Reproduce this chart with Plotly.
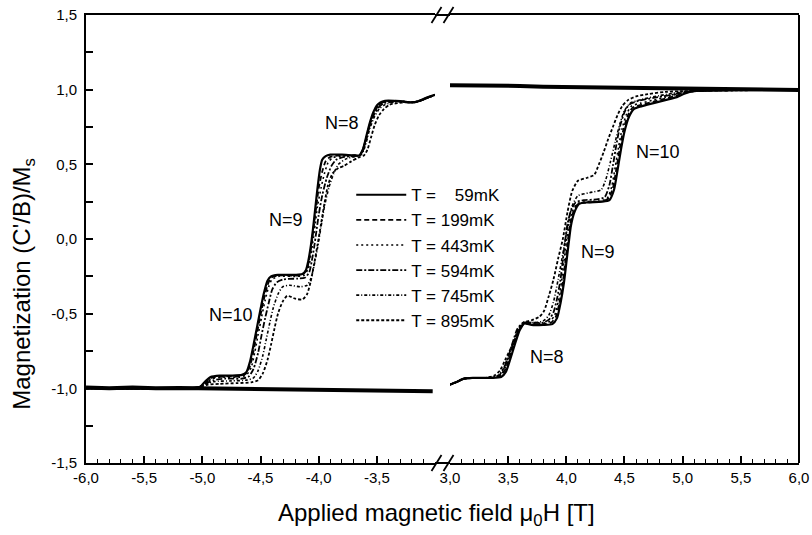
import plotly.graph_objects as go

FONT = "Liberation Sans, Arial, sans-serif"

TEMPS = ["59mK", "199mK", "443mK", "594mK", "745mK", "895mK"]
LEGEND_TEXT = ["T = \u00a0\u00a0 59mK", "T = 199mK", "T = 443mK", "T = 594mK", "T = 745mK", "T = 895mK"]
DASHES = ["solid", "5px,3px", "2px,3px", "6px,2px,2px,2px", "3px,2px,1px,2px", "3px,2px"]
WIDTHS = [2.2, 1.8, 1.6, 1.8, 1.6, 1.8]

# descending branch, negative fields (x, M)
T59_L = [(-6.0,-1.0),(-5.1,-1.0),(-5.02,-0.99),(-4.97,-0.95),(-4.93,-0.925),(-4.85,-0.915),(-4.75,-0.915),(-4.66,-0.91),
         (-4.62,-0.89),(-4.59,-0.82),(-4.56,-0.71),(-4.53,-0.59),(-4.50,-0.47),(-4.47,-0.36),(-4.44,-0.28),(-4.41,-0.25),
         (-4.35,-0.24),(-4.20,-0.24),(-4.14,-0.235),(-4.11,-0.21),(-4.09,-0.15),(-4.07,-0.06),(-4.05,0.06),(-4.03,0.20),
         (-4.01,0.34),(-3.99,0.46),(-3.97,0.53),(-3.94,0.555),(-3.90,0.565),(-3.80,0.565),(-3.70,0.56),(-3.65,0.56),
         (-3.62,0.60),(-3.59,0.69),(-3.56,0.78),(-3.53,0.85),(-3.50,0.895),(-3.47,0.915),(-3.43,0.925),(-3.35,0.925),
         (-3.25,0.918),(-3.18,0.915),(-3.12,0.93),(-3.06,0.95),(-3.0,0.965)]
T199_L = [(-6.0,-1.0),(-5.1,-1.0),(-5.02,-0.99),(-4.96,-0.955),(-4.92,-0.93),(-4.8,-0.92),(-4.68,-0.92),(-4.63,-0.905),
          (-4.59,-0.85),(-4.56,-0.75),(-4.53,-0.63),(-4.50,-0.51),(-4.47,-0.40),(-4.44,-0.31),(-4.41,-0.26),(-4.35,-0.245),
          (-4.20,-0.245),(-4.14,-0.24),(-4.10,-0.20),(-4.08,-0.13),(-4.06,-0.03),(-4.04,0.10),(-4.02,0.22),(-4.0,0.34),
          (-3.97,0.45),(-3.94,0.52),(-3.90,0.55),(-3.82,0.56),(-3.70,0.56),(-3.65,0.56),(-3.62,0.60),(-3.59,0.68),
          (-3.56,0.77),(-3.53,0.84),(-3.49,0.89),(-3.45,0.915),(-3.38,0.925),(-3.3,0.925),(-3.22,0.915),(-3.15,0.92),
          (-3.08,0.94),(-3.0,0.965)]
T443_L = [(-6.0,-1.0),(-5.1,-1.0),(-5.02,-0.99),(-4.96,-0.96),(-4.92,-0.935),(-4.8,-0.925),(-4.68,-0.925),(-4.62,-0.91),
          (-4.58,-0.86),(-4.55,-0.76),(-4.52,-0.64),(-4.49,-0.52),(-4.46,-0.41),(-4.43,-0.32),(-4.40,-0.27),(-4.34,-0.25),
          (-4.20,-0.25),(-4.13,-0.245),(-4.09,-0.20),(-4.07,-0.12),(-4.05,-0.02),(-4.03,0.10),(-4.01,0.22),(-3.98,0.34),
          (-3.95,0.44),(-3.92,0.51),(-3.88,0.545),(-3.80,0.555),(-3.70,0.56),(-3.65,0.56),(-3.62,0.60),(-3.59,0.68),
          (-3.56,0.77),(-3.53,0.84),(-3.49,0.89),(-3.45,0.915),(-3.38,0.925),(-3.3,0.925),(-3.22,0.915),(-3.15,0.92),
          (-3.08,0.94),(-3.0,0.965)]
T594_L = [(-6.0,-1.0),(-5.1,-1.0),(-5.02,-0.99),(-4.96,-0.965),(-4.90,-0.945),(-4.8,-0.935),(-4.66,-0.935),(-4.60,-0.92),
          (-4.56,-0.87),(-4.52,-0.76),(-4.49,-0.64),(-4.46,-0.53),(-4.43,-0.43),(-4.40,-0.34),(-4.36,-0.29),(-4.30,-0.27),
          (-4.18,-0.265),(-4.12,-0.26),(-4.08,-0.22),(-4.06,-0.15),(-4.04,-0.06),(-4.02,0.05),(-4.0,0.16),(-3.97,0.29),
          (-3.93,0.41),(-3.89,0.49),(-3.85,0.53),(-3.78,0.55),(-3.70,0.555),(-3.65,0.56),(-3.62,0.59),(-3.59,0.67),
          (-3.56,0.76),(-3.52,0.84),(-3.48,0.885),(-3.44,0.91),(-3.36,0.92),(-3.3,0.925),(-3.22,0.915),(-3.15,0.92),
          (-3.08,0.94),(-3.0,0.965)]
T745_L = [(-6.0,-1.0),(-5.1,-1.0),(-5.02,-0.99),(-4.96,-0.97),(-4.90,-0.955),(-4.75,-0.95),(-4.62,-0.945),(-4.56,-0.93),
          (-4.52,-0.88),(-4.48,-0.78),(-4.45,-0.67),(-4.42,-0.56),(-4.39,-0.46),(-4.35,-0.37),(-4.31,-0.32),(-4.25,-0.31),
          (-4.16,-0.32),(-4.10,-0.31),(-4.07,-0.27),(-4.04,-0.18),(-4.01,-0.06),(-3.98,0.08),(-3.95,0.22),(-3.91,0.35),
          (-3.87,0.44),(-3.83,0.50),(-3.77,0.535),(-3.70,0.55),(-3.65,0.555),(-3.62,0.58),(-3.59,0.65),(-3.56,0.74),
          (-3.52,0.82),(-3.48,0.87),(-3.43,0.90),(-3.36,0.915),(-3.3,0.92),(-3.22,0.915),(-3.15,0.92),(-3.08,0.94),
          (-3.0,0.965)]
T895_L = [(-6.0,-1.0),(-5.1,-1.0),(-5.02,-0.99),(-4.95,-0.975),(-4.85,-0.97),(-4.70,-0.965),(-4.58,-0.96),(-4.52,-0.945),
          (-4.48,-0.90),(-4.44,-0.81),(-4.41,-0.71),(-4.38,-0.60),(-4.35,-0.50),(-4.31,-0.42),(-4.27,-0.38),(-4.20,-0.40),
          (-4.14,-0.405),(-4.10,-0.37),(-4.07,-0.29),(-4.04,-0.17),(-4.01,-0.04),(-3.98,0.10),(-3.95,0.24),(-3.92,0.36),
          (-3.88,0.44),(-3.83,0.475),(-3.78,0.49),(-3.72,0.52),(-3.66,0.545),(-3.61,0.56),(-3.58,0.60),(-3.55,0.68),
          (-3.52,0.76),(-3.48,0.83),(-3.44,0.87),(-3.39,0.90),(-3.32,0.91),(-3.25,0.915),(-3.18,0.915),(-3.12,0.93),
          (-3.06,0.95),(-3.0,0.965)]

# ascending branch, positive fields (x, M)
T59_R = [(3.0,-0.975),(3.05,-0.96),(3.12,-0.935),(3.2,-0.93),(3.35,-0.93),(3.44,-0.925),(3.48,-0.89),(3.52,-0.80),
         (3.56,-0.70),(3.60,-0.61),(3.64,-0.565),(3.70,-0.575),(3.80,-0.575),(3.88,-0.57),(3.92,-0.53),(3.95,-0.43),
         (3.98,-0.29),(4.0,-0.16),(4.02,-0.03),(4.04,0.09),(4.07,0.18),(4.11,0.235),(4.18,0.245),(4.30,0.25),(4.37,0.26),
         (4.41,0.33),(4.44,0.46),(4.47,0.60),(4.50,0.72),(4.54,0.82),(4.58,0.87),(4.65,0.89),(4.75,0.91),(4.85,0.93),
         (4.95,0.95),(5.02,0.975),(5.10,0.99),(5.3,0.995),(6.0,1.0)]
T199_R = [(3.0,-0.975),(3.05,-0.96),(3.12,-0.935),(3.2,-0.93),(3.35,-0.93),(3.43,-0.92),(3.47,-0.88),(3.51,-0.80),
          (3.55,-0.70),(3.59,-0.61),(3.64,-0.565),(3.70,-0.57),(3.80,-0.57),(3.87,-0.56),(3.91,-0.52),(3.94,-0.43),
          (3.97,-0.29),(3.99,-0.16),(4.01,-0.03),(4.03,0.09),(4.06,0.18),(4.10,0.235),(4.18,0.245),(4.30,0.25),
          (4.36,0.27),(4.40,0.34),(4.43,0.47),(4.46,0.61),(4.49,0.73),(4.53,0.83),(4.57,0.88),(4.65,0.90),(4.75,0.92),
          (4.85,0.94),(4.95,0.96),(5.02,0.98),(5.10,0.99),(5.3,0.995),(6.0,1.0)]
T443_R = [(3.0,-0.975),(3.05,-0.96),(3.12,-0.935),(3.2,-0.93),(3.35,-0.93),(3.43,-0.915),(3.47,-0.87),(3.51,-0.79),
          (3.55,-0.69),(3.59,-0.60),(3.64,-0.56),(3.70,-0.565),(3.80,-0.565),(3.86,-0.55),(3.90,-0.51),(3.93,-0.42),
          (3.96,-0.28),(3.98,-0.15),(4.0,-0.02),(4.02,0.09),(4.05,0.18),(4.09,0.235),(4.16,0.25),(4.28,0.255),
          (4.35,0.27),(4.39,0.35),(4.42,0.48),(4.45,0.62),(4.48,0.74),(4.52,0.84),(4.56,0.89),(4.64,0.91),(4.75,0.93),
          (4.85,0.95),(4.95,0.97),(5.02,0.985),(5.10,0.99),(5.3,0.995),(6.0,1.0)]
T594_R = [(3.0,-0.975),(3.05,-0.96),(3.12,-0.935),(3.2,-0.93),(3.35,-0.93),(3.42,-0.915),(3.46,-0.87),(3.50,-0.79),
          (3.54,-0.69),(3.58,-0.60),(3.63,-0.56),(3.70,-0.56),(3.80,-0.56),(3.85,-0.54),(3.89,-0.49),(3.92,-0.40),
          (3.95,-0.27),(3.97,-0.14),(3.99,-0.01),(4.01,0.10),(4.04,0.19),(4.08,0.245),(4.15,0.26),(4.26,0.265),
          (4.33,0.28),(4.37,0.36),(4.40,0.49),(4.43,0.63),(4.46,0.75),(4.50,0.85),(4.54,0.90),(4.62,0.925),(4.75,0.945),
          (4.9,0.965),(5.0,0.98),(5.10,0.99),(5.3,0.995),(6.0,1.0)]
T745_R = [(3.0,-0.975),(3.05,-0.96),(3.12,-0.935),(3.3,-0.93),(3.40,-0.92),(3.45,-0.88),(3.50,-0.79),(3.55,-0.69),
          (3.60,-0.60),(3.64,-0.56),(3.72,-0.56),(3.80,-0.55),(3.85,-0.51),(3.89,-0.42),(3.93,-0.27),(3.97,-0.10),
          (4.01,0.08),(4.05,0.22),(4.10,0.29),(4.20,0.31),(4.30,0.33),(4.34,0.40),(4.38,0.52),(4.42,0.65),(4.46,0.77),
          (4.50,0.86),(4.55,0.91),(4.65,0.935),(4.80,0.96),(4.95,0.98),(5.05,0.99),(5.3,0.995),(6.0,1.0)]
T895_R = [(3.0,-0.975),(3.05,-0.96),(3.12,-0.935),(3.3,-0.93),(3.38,-0.915),(3.43,-0.88),(3.48,-0.80),(3.53,-0.72),
          (3.58,-0.62),(3.63,-0.56),(3.70,-0.545),(3.77,-0.52),(3.81,-0.48),(3.85,-0.38),(3.89,-0.27),(3.93,-0.13),
          (3.97,0.0),(4.01,0.18),(4.05,0.32),(4.10,0.39),(4.18,0.41),(4.24,0.43),(4.28,0.50),(4.32,0.58),(4.36,0.67),
          (4.40,0.75),(4.44,0.83),(4.48,0.89),(4.53,0.93),(4.60,0.955),(4.70,0.97),(4.85,0.985),(5.0,0.99),(6.0,1.0)]

# saturated branches (thick, noisy in the original)
FLAT_L = [(-6.0,-0.995),(-5.8,-1.0),(-5.6,-0.995),(-5.4,-1.0),(-5.2,-0.998),(-5.0,-1.0),(-4.8,-1.0),(-4.6,-1.005),
          (-4.4,-1.003),(-4.2,-1.008),(-4.0,-1.01),(-3.8,-1.012),(-3.6,-1.01),(-3.4,-1.015),(-3.2,-1.018),(-3.02,-1.02)]
FLAT_R = [(3.0,1.03),(3.2,1.03),(3.4,1.027),(3.6,1.025),(3.8,1.02),(4.0,1.018),(4.2,1.015),(4.4,1.012),(4.6,1.01),
          (4.8,1.005),(5.0,1.003),(5.2,1.0),(5.4,1.0),(5.6,0.998),(5.8,1.0),(6.0,0.998)]

LEFT = [T59_L, T199_L, T443_L, T594_L, T745_L, T895_L]
RIGHT = [T59_R, T199_R, T443_R, T594_R, T745_R, T895_R]

XTICKS_L = [-6.0, -5.5, -5.0, -4.5, -4.0, -3.5]
XTICKS_R = [3.0, 3.5, 4.0, 4.5, 5.0, 5.5, 6.0]
YTICKS = [-1.5, -1.0, -0.5, 0.0, 0.5, 1.0, 1.5]

# step labels: (axis, x, y, text)
STEP_LABELS = [("x", -3.80, 0.78, "N=8"), ("x", -4.28, 0.13, "N=9"), ("x", -4.75, -0.51, "N=10"),
               ("x2", 4.79, 0.58, "N=10"), ("x2", 4.27, -0.09, "N=9"), ("x2", 3.83, -0.79, "N=8")]


def fmt(v):
    return ("%.1f" % v).replace(".", ",")


fig = go.Figure()
for i, name in enumerate(TEMPS):
    for pts, xa, show in ((LEFT[i], "x", True), (RIGHT[i], "x2", False)):
        fig.add_trace(go.Scatter(
            x=[p[0] for p in pts], y=[p[1] for p in pts], mode="lines", xaxis=xa, yaxis="y",
            name=LEGEND_TEXT[i], legendgroup=name, showlegend=show,
            line=dict(color="black", width=WIDTHS[i], dash=DASHES[i], shape="spline", smoothing=0.6)))

for pts, xa in ((FLAT_L, "x"), (FLAT_R, "x2")):
    fig.add_trace(go.Scatter(x=[p[0] for p in pts], y=[p[1] for p in pts], mode="lines", xaxis=xa, yaxis="y",
                             showlegend=False, line=dict(color="black", width=4)))

GAP_L, GAP_R = 0.4895, 0.5105
common = dict(showline=True, linecolor="black", linewidth=2, mirror=True, ticks="inside", ticklen=7,
              tickwidth=1.5, tickcolor="black", showgrid=False, zeroline=False, automargin=False,
              tickfont=dict(family=FONT, size=15, color="black"),
              minor=dict(ticks="inside", ticklen=4, tickwidth=1.2, tickcolor="black", dtick=0.1, showgrid=False))
fig.update_layout(
    xaxis=dict(domain=[0, GAP_L], range=[-6.0, -3.0], tickmode="array", tickvals=XTICKS_L,
               ticktext=[fmt(v) for v in XTICKS_L], anchor="y", **common),
    xaxis2=dict(domain=[GAP_R, 1], range=[3.0, 6.0], tickmode="array", tickvals=XTICKS_R,
                ticktext=[fmt(v) for v in XTICKS_R], anchor="y", **common),
    yaxis=dict(range=[-1.5, 1.5], tickmode="array", tickvals=YTICKS, ticktext=[fmt(v) for v in YTICKS],
               showline=True, linecolor="black", linewidth=2, ticks="inside", ticklen=7, tickwidth=1.5,
               tickcolor="black", showgrid=False, zeroline=False, ticklabelstandoff=4, automargin=False,
               tickfont=dict(family=FONT, size=15, color="black"),
               minor=dict(ticks="inside", ticklen=7, tickwidth=1.5, tickcolor="black", dtick=0.25, showgrid=False)),
    width=812, height=535, margin=dict(l=86, r=13, t=15, b=72, autoexpand=False),
    paper_bgcolor="white", plot_bgcolor="white",
    font=dict(family=FONT, color="black"),
    legend=dict(x=0.372, y=0.638, xanchor="left", yanchor="top", bgcolor="rgba(0,0,0,0)",
                font=dict(family=FONT, size=17, color="black"), itemwidth=50, tracegroupgap=0),
)

shapes = []
px_x, px_y = 1.0 / 713, 1.0 / 448
for yy in (0.0, 1.0):
    shapes.append(dict(type="line", xref="paper", yref="paper", x0=GAP_L, x1=GAP_R, y0=yy, y1=yy,
                       line=dict(color="black", width=2)))
    for off in (-6, 6):
        cx = (GAP_L + GAP_R) / 2 + off * px_x
        shapes.append(dict(type="line", xref="paper", yref="paper", x0=cx - 5 * px_x, x1=cx + 5 * px_x,
                           y0=yy - 8 * px_y, y1=yy + 8 * px_y, line=dict(color="black", width=1.8)))
shapes.append(dict(type="line", xref="paper", yref="paper", x0=1, x1=1, y0=0, y1=1,
                   line=dict(color="black", width=2)))
fig.update_layout(shapes=shapes)

ann = []
for xa, xv, yv, txt in STEP_LABELS:
    ann.append(dict(xref=xa, yref="y", x=xv, y=yv, text=txt, showarrow=False,
                    font=dict(family=FONT, size=18, color="black")))
ann.append(dict(xref="paper", yref="paper", x=0.491, y=-0.114, text="Applied magnetic field \u03bc<sub>0</sub>H [T]",
                showarrow=False, xanchor="center", yanchor="middle", font=dict(family=FONT, size=24, color="black")))
ann.append(dict(xref="paper", yref="paper", x=-0.087, y=0.40, text="Magnetization (C'/B)/M<sub>s</sub>",
                textangle=-90, showarrow=False, xanchor="center", yanchor="middle",
                font=dict(family=FONT, size=24, color="black")))
fig.update_layout(annotations=ann)

fig.write_html("out.html", config={"displayModeBar": False},
               post_script="document.body.style.margin='0';document.body.style.padding='0';")
